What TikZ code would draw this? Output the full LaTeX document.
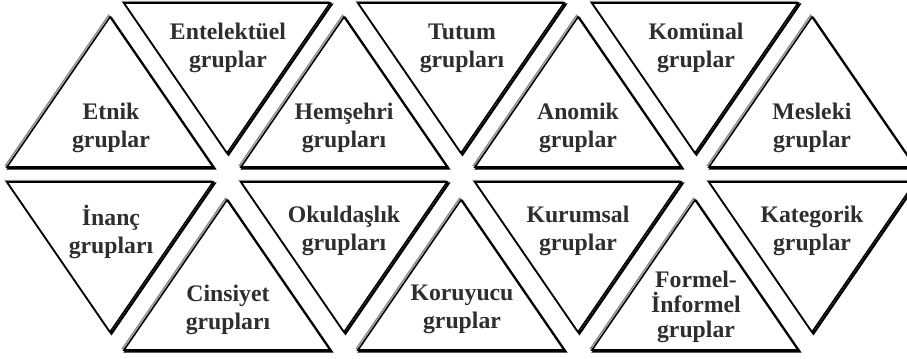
\documentclass[tikz,border=0pt]{standalone}
\usepackage{fontspec}
\setmainfont{Liberation Serif}
\definecolor{LabelGray}{HTML}{2E2E2E}
\definecolor{EdgeGray}{HTML}{8C8C8C}

\begin{document}
\begin{tikzpicture}[x=0.75pt, y=-0.75pt, every node/.style={font=\fontsize{17.8}{21}\selectfont\bfseries}]
        \tikzstyle{grp}=[text=LabelGray, align=center, inner sep=0pt]
        \tikzstyle{tri}=[draw=black, fill=white, line width=1.2pt]
        \tikzstyle{litedge}=[draw=EdgeGray, line width=1.1pt]
        \tikzstyle{darkedge}=[draw=black, line width=1.7pt]
        \useasboundingbox (0,0) rectangle (907,359);
        % triangles pointing up (apex given)
        \foreach \c/\t in {110/17, 344/17, 578/17, 812/17, 227/200, 461/200, 695/200} {
          \draw[litedge, shift={(-1.5,-1.5)}] (\c,\t) -- ++(-103,150) -- ++(206,0) -- cycle;
          \draw[darkedge, shift={(1.5,1.5)}] (\c,\t) -- ++(-103,150) -- ++(206,0) -- cycle;
          \draw[tri] (\c,\t) -- ++(-103,150) -- ++(206,0) -- cycle;
        }
        % triangles pointing down (apex given)
        \foreach \c/\t in {227/153, 461/153, 695/153, 110/332, 344/332, 578/332, 812/332} {
          \draw[litedge, shift={(-1.5,-1.5)}] (\c,\t) -- ++(103,-150) -- ++(-206,0) -- cycle;
          \draw[darkedge, shift={(1.5,1.5)}] (\c,\t) -- ++(103,-150) -- ++(-206,0) -- cycle;
          \draw[tri] (\c,\t) -- ++(103,-150) -- ++(-206,0) -- cycle;
        }
        \node[grp] (etnik) at (111,128) {Etnik\\gruplar};
        \node[grp] (hemsehri) at (344,128) {Hemşehri\\grupları};
        \node[grp] (anomik) at (578,128) {Anomik\\gruplar};
        \node[grp] (mesleki) at (812,128) {Mesleki\\gruplar};
        \node[grp] (entelektuel) at (228,48) {Entelektüel\\gruplar};
        \node[grp] (tutum) at (462,48) {Tutum\\grupları};
        \node[grp] (komunal) at (696,48) {Komünal\\gruplar};
        \node[grp] (inanc) at (111,232) {İnanç\\grupları};
        \node[grp] (okuldaslik) at (344,231) {Okuldaşlık\\grupları};
        \node[grp] (kurumsal) at (578,231) {Kurumsal\\gruplar};
        \node[grp] (kategorik) at (812,231) {Kategorik\\gruplar};
        \node[grp] (cinsiyet) at (228,310) {Cinsiyet\\grupları};
        \node[grp] (koruyucu) at (462,309) {Koruyucu\\gruplar};
        \node[grp] (formel) at (696,307) {Formel-\\[-2.2pt]İnformel\\[-2.2pt]gruplar};
      \end{tikzpicture}
\end{document}
